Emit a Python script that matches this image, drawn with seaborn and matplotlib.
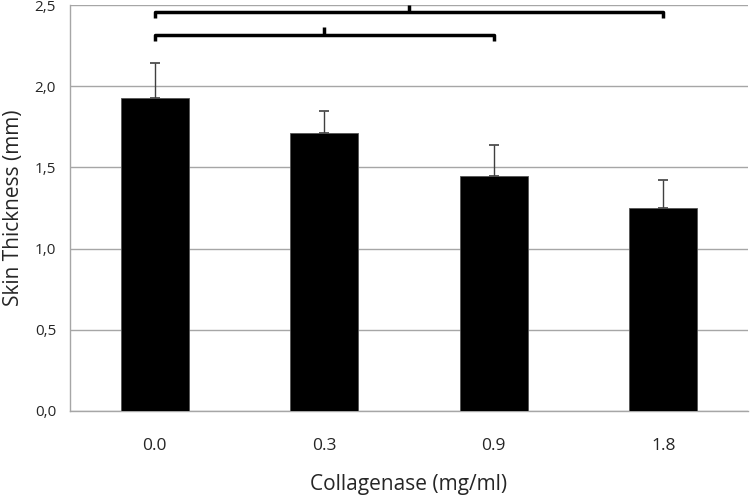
import numpy as np
import pandas as pd
import matplotlib
matplotlib.use("Agg")
import matplotlib.pyplot as plt
import seaborn as sns

# data
concentration = ["0.0", "0.3", "0.9", "1.8"]
thickness = [1.93, 1.71, 1.45, 1.25]
err_upper = [0.215, 0.14, 0.19, 0.17]

y_ticks = [0.0, 0.5, 1.0, 1.5, 2.0, 2.5]
y_tick_labels = ["0,0", "0,5", "1,0", "1,5", "2,0", "2,5"]

# significance brackets: (first bar, last bar, height)
brackets = [(0, 3, 2.46), (0, 2, 2.32)]

df = pd.DataFrame({"Collagenase": concentration, "Thickness": thickness})

sns.set_style("white")
plt.rcParams["font.family"] = ["Open Sans", "DejaVu Sans"]

fig = plt.figure(figsize=(7.5, 4.97), dpi=100)
ax = fig.add_axes([0.0933, 0.1736, 0.904, 0.8157])

sns.barplot(data=df, x="Collagenase", y="Thickness", color="black",
            width=0.4, saturation=1, edgecolor="#555555", linewidth=0.6,
            ax=ax, zorder=3)

# one-sided error bars (upper only), drawn behind the bars so the
# lower cap is hidden
xpos = np.arange(len(concentration))
ax.errorbar(xpos, thickness, yerr=[np.zeros(len(err_upper)), err_upper],
            fmt="none", ecolor="#404040", elinewidth=1, capsize=3.5,
            capthick=1.2, zorder=2)

ax.set_ylim(0, 2.5)
ax.set_xlim(-0.5, 3.5)
ax.set_yticks(y_ticks)
ax.set_yticklabels(y_tick_labels, fontsize=11)
ax.tick_params(axis="x", labelsize=12.5, length=0, pad=20)
ax.tick_params(axis="y", length=0, pad=10)
ax.yaxis.grid(True, color="#a6a6a6", linewidth=1)
ax.set_axisbelow(True)

for side in ["top", "right"]:
    ax.spines[side].set_visible(False)
for side in ["left", "bottom"]:
    ax.spines[side].set_color("#a6a6a6")
    ax.spines[side].set_linewidth(1)

ax.set_xlabel("Collagenase (mg/ml)", fontsize=15, labelpad=14)
ax.set_ylabel("Skin Thickness (mm)", fontsize=15)
ax.yaxis.set_label_coords(-0.068, 0.5)

# draw the curly brackets above the bars
for i0, i1, h in brackets:
    mid = (i0 + i1) / 2
    ax.plot([i0, i0, i1, i1], [h - 0.04, h, h, h - 0.04], color="black",
            linewidth=2.5, solid_joinstyle="round", solid_capstyle="butt",
            clip_on=False, zorder=5)
    ax.plot([mid, mid], [h, h + 0.045], color="black", linewidth=2.5,
            solid_capstyle="butt", clip_on=False, zorder=5)

fig.savefig("out.png", dpi=100)
